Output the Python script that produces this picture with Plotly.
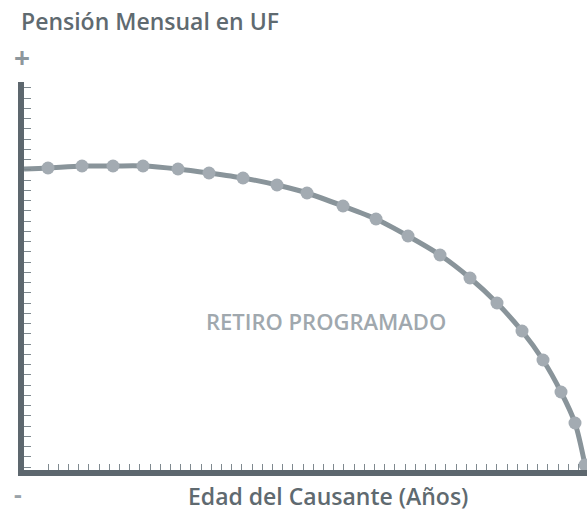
import plotly.graph_objects as go

# Relative scale (no numeric labels in the original chart)
edad = [24, 58, 89, 119, 154, 185, 219, 253, 283, 319, 352, 384, 416, 446, 473, 498, 519, 537, 551, 561]
pension = [302, 304, 304, 304, 301, 297, 292, 285, 277, 264, 251, 234, 215, 192, 167, 139, 110, 78, 47, 5]
edad_inicio = [0]
pension_inicio = [301]

titulo_y = "Pensión Mensual en UF"
titulo_x = "Edad del Causante (Años)"
etiqueta = "RETIRO PROGRAMADO"

AXIS = "#5d676e"
TICK = "#7f898f"
LINE = "#89949a"
MARK = "#a3abb2"
TXT = "#5f6a70"
FONT = "Open Sans"

X_MAX = 563
x_ticks = []
t = 24.0
while t < X_MAX:
    x_ticks.append(round(t, 2))
    t += 10.2

fig = go.Figure()
fig.add_trace(go.Scatter(
    x=edad_inicio + edad, y=pension_inicio + pension,
    mode="lines", line=dict(color=LINE, width=5, shape="spline", smoothing=0.8),
    hoverinfo="skip", showlegend=False, cliponaxis=False))
fig.add_trace(go.Scatter(
    x=edad, y=pension, mode="markers",
    marker=dict(color=MARK, size=13, line=dict(width=0)),
    showlegend=False, cliponaxis=False))

fig.update_layout(
    width=587, height=511,
    margin=dict(l=24, r=0, t=82, b=41),
    paper_bgcolor="white", plot_bgcolor="white",
    font=dict(family=FONT, color=TXT),
    xaxis=dict(range=[0, X_MAX], showgrid=False, zeroline=False, showline=True,
               linecolor=AXIS, linewidth=6, ticks="inside", ticklen=6, tickwidth=1,
               tickcolor=TICK, tickmode="array", tickvals=x_ticks,
               showticklabels=False, fixedrange=True),
    yaxis=dict(range=[0, 388], showgrid=False, zeroline=False, showline=True,
               linecolor=AXIS, linewidth=6, ticks="inside", ticklen=7, tickwidth=1,
               tickcolor=TICK, tick0=3, dtick=10.25, showticklabels=False, fixedrange=True),
    annotations=[
        dict(text=titulo_y, xref="paper", yref="paper", x=-24/563, y=1 + 61/388,
             xanchor="left", yanchor="middle", showarrow=False, borderpad=0,
             font=dict(family=FONT, size=23, color=TXT, weight=600), xshift=20),
        dict(text="+", xref="paper", yref="paper", x=0, y=1 + 25/388,
             xanchor="center", yanchor="middle", showarrow=False, xshift=-2, borderpad=0,
             font=dict(family=FONT, size=28, color="#8d979d", weight=700)),
        dict(text="-", xref="paper", yref="paper", x=0, y=-23/388,
             xanchor="center", yanchor="middle", showarrow=False, xshift=-6, borderpad=0,
             font=dict(family=FONT, size=24, color="#9aa3a9", weight=700)),
        dict(text=titulo_x, xref="paper", yref="paper", x=(328 - 24) / 563, y=-26/388,
             xanchor="center", yanchor="middle", showarrow=False, borderpad=0,
             font=dict(family=FONT, size=23, color=TXT, weight=600)),
        dict(text=etiqueta, xref="paper", yref="paper", x=(326 - 24) / 563, y=(470 - 321) / 388,
             xanchor="center", yanchor="middle", showarrow=False, borderpad=0,
             font=dict(family=FONT, size=22, color="#a0a8ae", weight=600)),
    ],
)

fig.write_html("out.html", config={"displayModeBar": False},
               post_script="document.body.style.margin='0';document.body.style.overflow='hidden';")
